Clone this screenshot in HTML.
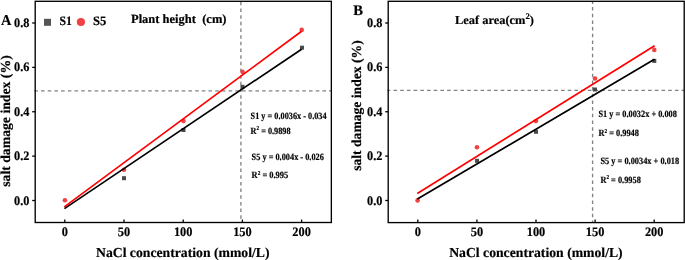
<!DOCTYPE html>
<html><head><meta charset="utf-8"><title>salt damage index</title>
<style>
html,body{margin:0;padding:0;background:#fff;}
body{width:685px;height:260px;overflow:hidden;font-family:"Liberation Serif",serif;}
svg{display:block;will-change:transform;}
text{text-rendering:geometricPrecision;}
</style></head><body>
<svg width="685" height="260" viewBox="0 0 685 260">
<rect width="685" height="260" fill="#fff"/>
<line x1="34.3" y1="90.85" x2="331.35" y2="90.85" stroke="#828282" stroke-width="1.35" stroke-dasharray="3.6 3.1" stroke-dashoffset="0"/>
<line x1="240.9" y1="1.3" x2="240.9" y2="222.5" stroke="#828282" stroke-width="1.35" stroke-dasharray="3.5 3.17" stroke-dashoffset="6.17"/>
<rect x="122" y="176.2" width="4.0" height="4.0" fill="#4a4a4a"/>
<rect x="181.5" y="128" width="4.0" height="4.0" fill="#4a4a4a"/>
<rect x="240.5" y="84.8" width="4.0" height="4.0" fill="#4a4a4a"/>
<rect x="300" y="45.7" width="4.0" height="4.0" fill="#4a4a4a"/>
<circle cx="64.9" cy="200.3" r="2.3" fill="#f04242"/>
<circle cx="124" cy="169.8" r="2.3" fill="#f04242"/>
<circle cx="183.5" cy="121" r="2.3" fill="#f04242"/>
<circle cx="242.6" cy="71.9" r="2.3" fill="#f04242"/>
<circle cx="301.7" cy="29.9" r="2.3" fill="#f04242"/>
<line x1="64.4" y1="208.6" x2="301.6" y2="49.2" stroke="#000" stroke-width="1.7"/>
<line x1="64.3" y1="206.9" x2="301.6" y2="31.3" stroke="#ff0000" stroke-width="1.7"/>
<rect x="35.2" y="1.3" width="296.15" height="221.2" fill="none" stroke="#000" stroke-width="1.35"/>
<line x1="32.2" y1="200.5" x2="35.2" y2="200.5" stroke="#000" stroke-width="1.3"/>
<text x="29.4" y="204.6" text-anchor="end" font-family="Liberation Serif" font-weight="bold" stroke="#000" stroke-width="0.18" font-size="13" textLength="15.4" lengthAdjust="spacingAndGlyphs">0.0</text>
<line x1="32.2" y1="156.12" x2="35.2" y2="156.12" stroke="#000" stroke-width="1.3"/>
<text x="29.4" y="160.22" text-anchor="end" font-family="Liberation Serif" font-weight="bold" stroke="#000" stroke-width="0.18" font-size="13" textLength="15.4" lengthAdjust="spacingAndGlyphs">0.2</text>
<line x1="32.2" y1="111.75" x2="35.2" y2="111.75" stroke="#000" stroke-width="1.3"/>
<text x="29.4" y="115.85" text-anchor="end" font-family="Liberation Serif" font-weight="bold" stroke="#000" stroke-width="0.18" font-size="13" textLength="15.4" lengthAdjust="spacingAndGlyphs">0.4</text>
<line x1="32.2" y1="67.38" x2="35.2" y2="67.38" stroke="#000" stroke-width="1.3"/>
<text x="29.4" y="71.47" text-anchor="end" font-family="Liberation Serif" font-weight="bold" stroke="#000" stroke-width="0.18" font-size="13" textLength="15.4" lengthAdjust="spacingAndGlyphs">0.6</text>
<line x1="32.2" y1="23" x2="35.2" y2="23" stroke="#000" stroke-width="1.3"/>
<text x="29.4" y="27.1" text-anchor="end" font-family="Liberation Serif" font-weight="bold" stroke="#000" stroke-width="0.18" font-size="13" textLength="15.4" lengthAdjust="spacingAndGlyphs">0.8</text>
<line x1="64.8" y1="219.5" x2="64.8" y2="222.5" stroke="#000" stroke-width="1.3"/>
<text x="64.8" y="235.8" text-anchor="middle" font-family="Liberation Serif" font-weight="bold" stroke="#000" stroke-width="0.18" font-size="13" textLength="6.17" lengthAdjust="spacingAndGlyphs">0</text>
<line x1="124" y1="219.5" x2="124" y2="222.5" stroke="#000" stroke-width="1.3"/>
<text x="124" y="235.8" text-anchor="middle" font-family="Liberation Serif" font-weight="bold" stroke="#000" stroke-width="0.18" font-size="13" textLength="12.35" lengthAdjust="spacingAndGlyphs">50</text>
<line x1="183.2" y1="219.5" x2="183.2" y2="222.5" stroke="#000" stroke-width="1.3"/>
<text x="183.2" y="235.8" text-anchor="middle" font-family="Liberation Serif" font-weight="bold" stroke="#000" stroke-width="0.18" font-size="13" textLength="18.52" lengthAdjust="spacingAndGlyphs">100</text>
<line x1="242.4" y1="219.5" x2="242.4" y2="222.5" stroke="#000" stroke-width="1.3"/>
<text x="242.4" y="235.8" text-anchor="middle" font-family="Liberation Serif" font-weight="bold" stroke="#000" stroke-width="0.18" font-size="13" textLength="18.52" lengthAdjust="spacingAndGlyphs">150</text>
<line x1="301.6" y1="219.5" x2="301.6" y2="222.5" stroke="#000" stroke-width="1.3"/>
<text x="301.6" y="235.8" text-anchor="middle" font-family="Liberation Serif" font-weight="bold" stroke="#000" stroke-width="0.18" font-size="13" textLength="18.52" lengthAdjust="spacingAndGlyphs">200</text>
<line x1="387.5" y1="90.3" x2="684.2" y2="90.3" stroke="#828282" stroke-width="1.35" stroke-dasharray="3.6 3.1" stroke-dashoffset="0.7"/>
<line x1="592.6" y1="1.3" x2="592.6" y2="222.6" stroke="#828282" stroke-width="1.35" stroke-dasharray="3.5 3.17" stroke-dashoffset="0.9"/>
<rect x="475" y="158.8" width="4.0" height="4.0" fill="#4a4a4a"/>
<rect x="534" y="129.8" width="4.0" height="4.0" fill="#4a4a4a"/>
<rect x="593" y="87.5" width="4.0" height="4.0" fill="#4a4a4a"/>
<rect x="652.3" y="58.9" width="4.0" height="4.0" fill="#4a4a4a"/>
<circle cx="417.6" cy="200.4" r="2.3" fill="#f04242"/>
<circle cx="477" cy="147.3" r="2.3" fill="#f04242"/>
<circle cx="536" cy="121" r="2.3" fill="#f04242"/>
<circle cx="595" cy="78.5" r="2.3" fill="#f04242"/>
<circle cx="654.3" cy="49.9" r="2.3" fill="#f04242"/>
<line x1="417.4" y1="199.1" x2="654.5" y2="59.3" stroke="#000" stroke-width="1.7"/>
<line x1="417.3" y1="193.45" x2="654.6" y2="45.7" stroke="#ff0000" stroke-width="1.7"/>
<rect x="388.2" y="1.3" width="296" height="221.3" fill="none" stroke="#000" stroke-width="1.35"/>
<line x1="385.2" y1="200.5" x2="388.2" y2="200.5" stroke="#000" stroke-width="1.3"/>
<text x="382.4" y="204.6" text-anchor="end" font-family="Liberation Serif" font-weight="bold" stroke="#000" stroke-width="0.18" font-size="13" textLength="15.4" lengthAdjust="spacingAndGlyphs">0.0</text>
<line x1="385.2" y1="156.12" x2="388.2" y2="156.12" stroke="#000" stroke-width="1.3"/>
<text x="382.4" y="160.22" text-anchor="end" font-family="Liberation Serif" font-weight="bold" stroke="#000" stroke-width="0.18" font-size="13" textLength="15.4" lengthAdjust="spacingAndGlyphs">0.2</text>
<line x1="385.2" y1="111.75" x2="388.2" y2="111.75" stroke="#000" stroke-width="1.3"/>
<text x="382.4" y="115.85" text-anchor="end" font-family="Liberation Serif" font-weight="bold" stroke="#000" stroke-width="0.18" font-size="13" textLength="15.4" lengthAdjust="spacingAndGlyphs">0.4</text>
<line x1="385.2" y1="67.38" x2="388.2" y2="67.38" stroke="#000" stroke-width="1.3"/>
<text x="382.4" y="71.47" text-anchor="end" font-family="Liberation Serif" font-weight="bold" stroke="#000" stroke-width="0.18" font-size="13" textLength="15.4" lengthAdjust="spacingAndGlyphs">0.6</text>
<line x1="385.2" y1="23" x2="388.2" y2="23" stroke="#000" stroke-width="1.3"/>
<text x="382.4" y="27.1" text-anchor="end" font-family="Liberation Serif" font-weight="bold" stroke="#000" stroke-width="0.18" font-size="13" textLength="15.4" lengthAdjust="spacingAndGlyphs">0.8</text>
<line x1="417.8" y1="219.6" x2="417.8" y2="222.6" stroke="#000" stroke-width="1.3"/>
<text x="417.8" y="235.8" text-anchor="middle" font-family="Liberation Serif" font-weight="bold" stroke="#000" stroke-width="0.18" font-size="13" textLength="6.17" lengthAdjust="spacingAndGlyphs">0</text>
<line x1="476.9" y1="219.6" x2="476.9" y2="222.6" stroke="#000" stroke-width="1.3"/>
<text x="476.9" y="235.8" text-anchor="middle" font-family="Liberation Serif" font-weight="bold" stroke="#000" stroke-width="0.18" font-size="13" textLength="12.35" lengthAdjust="spacingAndGlyphs">50</text>
<line x1="536" y1="219.6" x2="536" y2="222.6" stroke="#000" stroke-width="1.3"/>
<text x="536" y="235.8" text-anchor="middle" font-family="Liberation Serif" font-weight="bold" stroke="#000" stroke-width="0.18" font-size="13" textLength="18.52" lengthAdjust="spacingAndGlyphs">100</text>
<line x1="595.1" y1="219.6" x2="595.1" y2="222.6" stroke="#000" stroke-width="1.3"/>
<text x="595.1" y="235.8" text-anchor="middle" font-family="Liberation Serif" font-weight="bold" stroke="#000" stroke-width="0.18" font-size="13" textLength="18.52" lengthAdjust="spacingAndGlyphs">150</text>
<line x1="654.2" y1="219.6" x2="654.2" y2="222.6" stroke="#000" stroke-width="1.3"/>
<text x="654.2" y="235.8" text-anchor="middle" font-family="Liberation Serif" font-weight="bold" stroke="#000" stroke-width="0.18" font-size="13" textLength="18.52" lengthAdjust="spacingAndGlyphs">200</text>
<text x="0.9" y="25.4" font-family="Liberation Serif" font-weight="bold" stroke="#000" stroke-width="0.18" font-size="15.2" textLength="10.4" lengthAdjust="spacingAndGlyphs" xml:space="preserve">A</text>
<rect x="44" y="18.8" width="7" height="7" fill="#555"/>
<text x="59.5" y="25" font-family="Liberation Serif" font-weight="bold" stroke="#000" stroke-width="0.18" font-size="12.8" textLength="12.4" lengthAdjust="spacingAndGlyphs" xml:space="preserve">S1</text>
<circle cx="80.9" cy="22" r="4.1" fill="#f04242"/>
<text x="93.0" y="25" font-family="Liberation Serif" font-weight="bold" stroke="#000" stroke-width="0.18" font-size="12.8" textLength="13.3" lengthAdjust="spacingAndGlyphs" xml:space="preserve">S5</text>
<text x="131" y="22.8" font-family="Liberation Serif" font-weight="bold" stroke="#000" stroke-width="0.18" font-size="12.5" textLength="95.5" lengthAdjust="spacingAndGlyphs" xml:space="preserve">Plant height  (cm)</text>
<text x="250.6" y="119.2" font-family="Liberation Serif" font-weight="bold" stroke="#000" stroke-width="0.18" font-size="9.6" textLength="76" lengthAdjust="spacingAndGlyphs" xml:space="preserve">S1 y = 0.0036x - 0.034</text>
<text x="250.6" y="133.8" font-family="Liberation Serif" font-weight="bold" stroke="#000" stroke-width="0.18" font-size="9.6" textLength="40" lengthAdjust="spacingAndGlyphs" xml:space="preserve">R<tspan font-size="6" dy="-3.5">2</tspan><tspan dy="3.5"> = 0.9898</tspan></text>
<text x="251.6" y="159.6" font-family="Liberation Serif" font-weight="bold" stroke="#000" stroke-width="0.18" font-size="9.6" textLength="72.3" lengthAdjust="spacingAndGlyphs" xml:space="preserve">S5 y = 0.004x - 0.026</text>
<text x="251.6" y="178" font-family="Liberation Serif" font-weight="bold" stroke="#000" stroke-width="0.18" font-size="9.6" textLength="36.6" lengthAdjust="spacingAndGlyphs" xml:space="preserve">R<tspan font-size="6" dy="-3.5">2</tspan><tspan dy="3.5"> = 0.995</tspan></text>
<text x="96" y="257.4" font-family="Liberation Serif" font-weight="bold" stroke="#000" stroke-width="0.18" font-size="13.7" textLength="173.5" lengthAdjust="spacingAndGlyphs" xml:space="preserve">NaCl concentration (mmol/L)</text>
<text transform="translate(10.3,186.8) rotate(-90)" x="0" y="0" font-family="Liberation Serif" font-weight="bold" stroke="#000" stroke-width="0.18" font-size="13.7" textLength="131.5" lengthAdjust="spacingAndGlyphs">salt damage index (%)</text>
<text x="353.3" y="15" font-family="Liberation Serif" font-weight="bold" stroke="#000" stroke-width="0.18" font-size="14.6" xml:space="preserve">B</text>
<text x="455" y="24" font-family="Liberation Serif" font-weight="bold" stroke="#000" stroke-width="0.18" font-size="12.2" textLength="79" lengthAdjust="spacingAndGlyphs" xml:space="preserve">Leaf area(cm<tspan font-size="8.6" dy="-4.6">2</tspan><tspan dy="4.6">)</tspan></text>
<text x="598.4" y="117.3" font-family="Liberation Serif" font-weight="bold" stroke="#000" stroke-width="0.18" font-size="9.6" textLength="78.5" lengthAdjust="spacingAndGlyphs" xml:space="preserve">S1 y = 0.0032x + 0.008</text>
<text x="598.4" y="136.2" font-family="Liberation Serif" font-weight="bold" stroke="#000" stroke-width="0.18" font-size="9.6" textLength="40.6" lengthAdjust="spacingAndGlyphs" xml:space="preserve">R<tspan font-size="6" dy="-3.5">2</tspan><tspan dy="3.5"> = 0.9948</tspan></text>
<text x="600.4" y="163.8" font-family="Liberation Serif" font-weight="bold" stroke="#000" stroke-width="0.18" font-size="9.6" textLength="78.8" lengthAdjust="spacingAndGlyphs" xml:space="preserve">S5 y = 0.0034x + 0.018</text>
<text x="600.4" y="182.5" font-family="Liberation Serif" font-weight="bold" stroke="#000" stroke-width="0.18" font-size="9.6" textLength="40.4" lengthAdjust="spacingAndGlyphs" xml:space="preserve">R<tspan font-size="6" dy="-3.5">2</tspan><tspan dy="3.5"> = 0.9958</tspan></text>
<text x="449.2" y="257.4" font-family="Liberation Serif" font-weight="bold" stroke="#000" stroke-width="0.18" font-size="13.7" textLength="173.5" lengthAdjust="spacingAndGlyphs" xml:space="preserve">NaCl concentration (mmol/L)</text>
<text transform="translate(361,170.8) rotate(-90)" x="0" y="0" font-family="Liberation Serif" font-weight="bold" stroke="#000" stroke-width="0.18" font-size="13.7" textLength="130.5" lengthAdjust="spacingAndGlyphs">salt damage index (%)</text>
</svg>
</body></html>
